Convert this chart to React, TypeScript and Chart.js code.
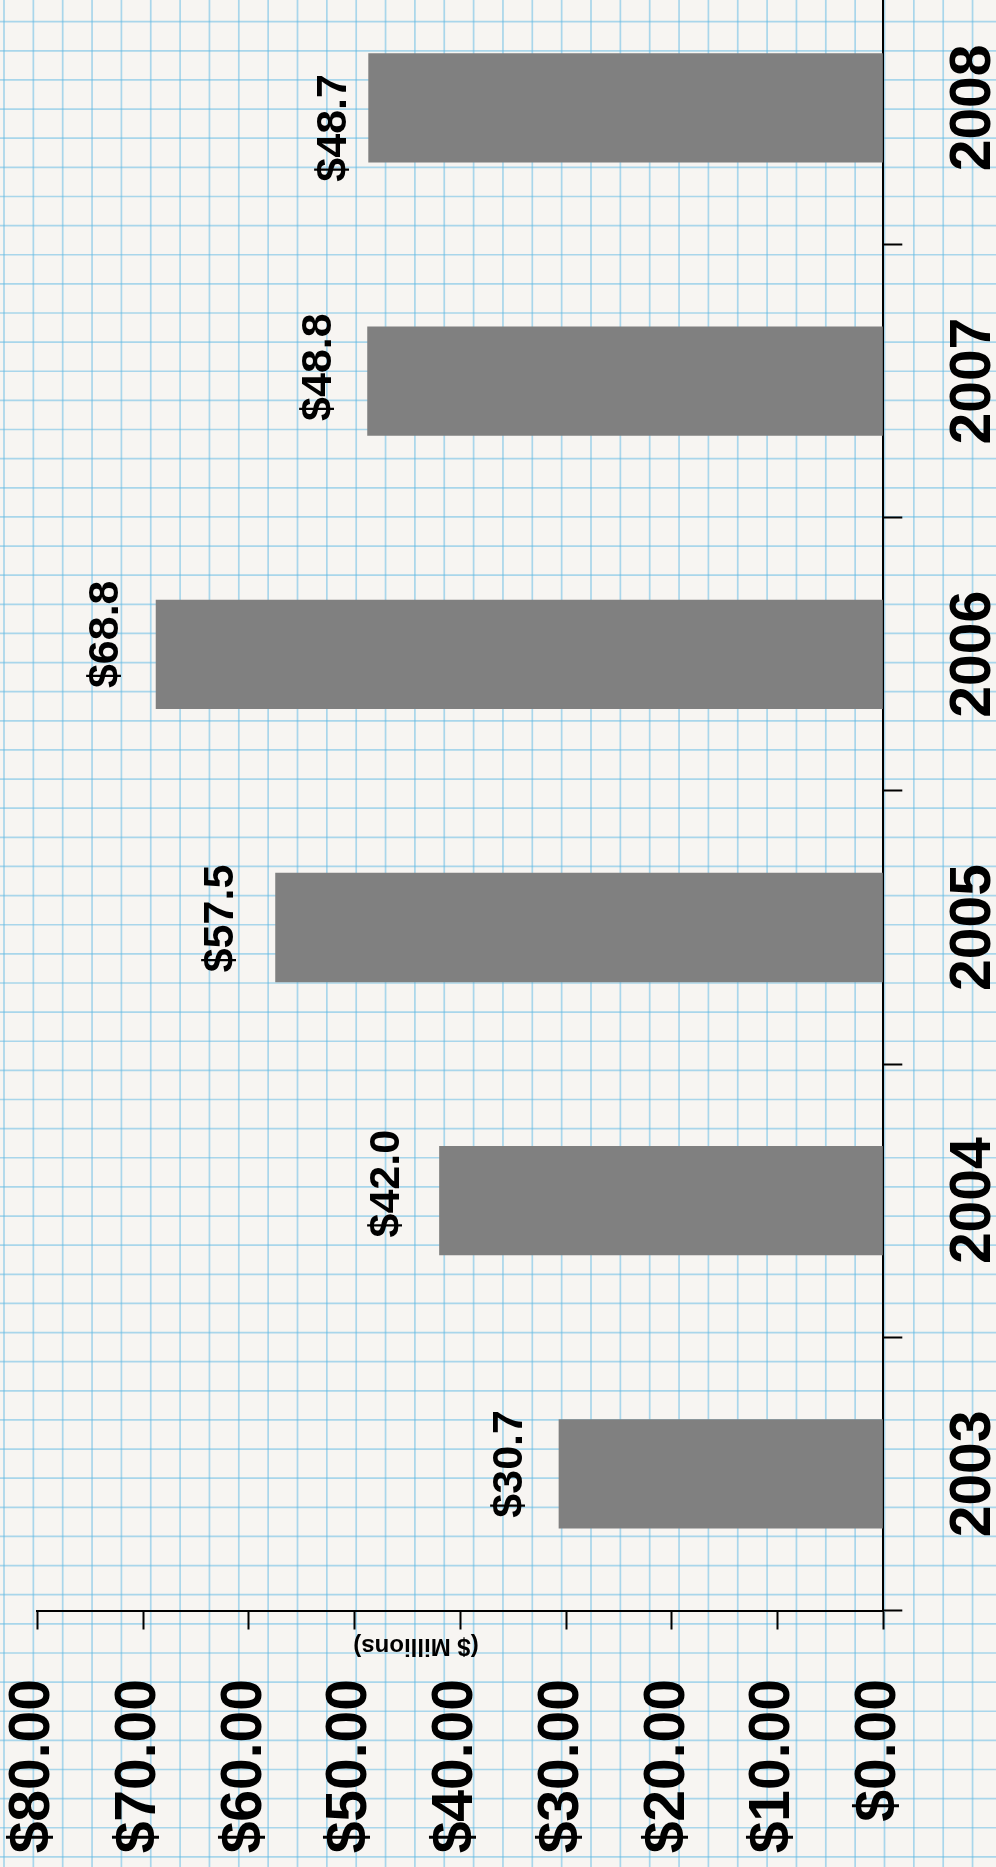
import React, { useEffect, useRef } from "react";
import { Chart, registerables } from "chart.js";

Chart.register(...registerables);

const years = ["2003", "2004", "2005", "2006", "2007", "2008"];
const revenue = [30.7, 42.0, 57.5, 68.8, 48.8, 48.7];
const valueMin = 0;
const valueMax = 80;
const valueStep = 10;
const axisTitle = "($ Millions)";
// small hand placement nudges of the value labels relative to the bar end (px)
const labelGap = [-37, -40, -42, -38, -36, -22];
const labelShift = [-10, -17, -9, -20, -14, 20];

const W = 996;
const H = 1867;
const OFF = 40; // canvas extends 40px above the page (chart area starts above the top edge)
const FONT = "'Liberation Sans', Arial, Helvetica, sans-serif";

const paperPlugin = {
  id: "paper",
  beforeDraw(chart: any) {
    const { ctx, width, height } = chart;
    ctx.save();
    ctx.fillStyle = "#f7f5f2";
    ctx.fillRect(0, 0, width, height);
    ctx.strokeStyle = "rgba(92, 184, 228, 0.5)";
    ctx.lineWidth = 1.7;
    for (let x = 4; x < width + 30; x += 29.35) {
      ctx.beginPath();
      ctx.moveTo(x, 0);
      ctx.lineTo(x, height);
      ctx.stroke();
    }
    for (let y = 21.7 + OFF - 29.13 * 2; y < height + 30; y += 29.13) {
      ctx.beginPath();
      ctx.moveTo(0, y);
      ctx.lineTo(width, y);
      ctx.stroke();
    }
    ctx.restore();
  },
};

const labelsPlugin = {
  id: "labels",
  afterDatasetsDraw(chart: any) {
    const { ctx } = chart;
    const meta = chart.getDatasetMeta(0);
    const yScale = chart.scales.y;
    ctx.save();
    ctx.fillStyle = "#000";
    // value labels
    ctx.font = `bold 43px ${FONT}`;
    ctx.textAlign = "center";
    ctx.textBaseline = "alphabetic";
    meta.data.forEach((bar: any, i: number) => {
      ctx.save();
      ctx.translate(bar.x + labelGap[i], bar.y + labelShift[i]);
      ctx.rotate(-Math.PI / 2);
      ctx.fillText("$" + revenue[i].toFixed(1), 0, 0);
      ctx.restore();
    });
    // category labels
    ctx.font = `bold 57px ${FONT}`;
    years.forEach((yr, i) => {
      const y = yScale.getPixelForValue(i);
      ctx.save();
      ctx.translate(990, y);
      ctx.rotate(-Math.PI / 2);
      ctx.fillText(yr, 0, 0);
      ctx.restore();
    });
    // axis title (upside down)
    ctx.font = `bold 24px ${FONT}`;
    ctx.textBaseline = "middle";
    ctx.save();
    ctx.translate(416, 1646 + OFF);
    ctx.rotate(Math.PI);
    ctx.fillText(axisTitle, 0, 0);
    ctx.restore();
    ctx.restore();
  },
};

export default function App() {
  const ref = useRef<HTMLCanvasElement | null>(null);

  useEffect(() => {
    if (!ref.current) return;
    const chart = new Chart(ref.current, {
      type: "bar",
      data: {
        labels: years,
        datasets: [
          {
            data: revenue,
            backgroundColor: "#808080",
            borderWidth: 0,
            barPercentage: 0.4,
            categoryPercentage: 1.0,
          },
        ],
      },
      options: {
        indexAxis: "y",
        responsive: false,
        animation: false,
        devicePixelRatio: 1,
        layout: { padding: { top: OFF - 28.7, left: 37.3, right: 0, bottom: 0 } },
        plugins: { legend: { display: false }, tooltip: { enabled: false } },
        scales: {
          x: {
            type: "linear",
            position: "bottom",
            min: valueMin,
            max: valueMax,
            reverse: true,
            grid: {
              drawOnChartArea: false,
              drawTicks: true,
              tickLength: 19,
              tickColor: "#000",
              tickWidth: 2,
            },
            border: { display: true, color: "#000", width: 2 },
            ticks: {
              stepSize: valueStep,
              autoSkip: false,
              minRotation: 90,
              maxRotation: 90,
              padding: 49.5,
              labelOffset: -4,
              color: "#000",
              font: { family: FONT, weight: "bold", size: 57 },
              callback: (v: any) => "$" + Number(v).toFixed(2),
            },
            afterFit: (s: any) => {
              s.height = H + OFF - (1610.5 + OFF);
              s.paddingLeft = 0;
              s.paddingRight = 0;
            },
          },
          y: {
            type: "category",
            position: "right",
            reverse: true,
            offset: true,
            grid: {
              offset: true,
              drawOnChartArea: false,
              drawTicks: true,
              tickLength: 19,
              tickColor: "#000",
              tickWidth: 2,
            },
            border: { display: true, color: "#000", width: 2 },
            ticks: { display: false },
            afterFit: (s: any) => {
              s.width = W - 883.3;
              s.paddingTop = 0;
              s.paddingBottom = 0;
            },
          },
        },
      },
      plugins: [paperPlugin, labelsPlugin],
    });
    return () => chart.destroy();
  }, []);

  return (
    <div
      style={{
        position: "fixed",
        left: 0,
        top: 0,
        width: W,
        height: H,
        overflow: "hidden",
        background: "#f7f5f2",
      }}
    >
      <canvas
        ref={ref}
        width={W}
        height={H + OFF}
        style={{ position: "absolute", left: 0, top: -OFF, width: W, height: H + OFF }}
      />
    </div>
  );
}
